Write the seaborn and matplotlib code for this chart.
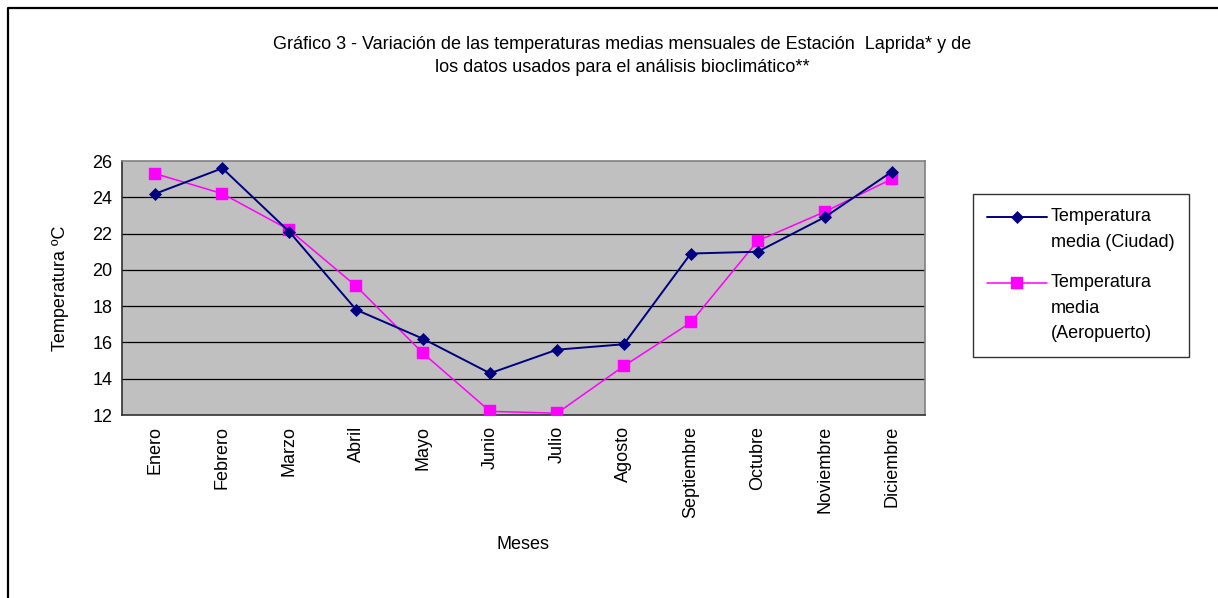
import matplotlib
matplotlib.use('Agg')
import matplotlib.pyplot as plt
from matplotlib.lines import Line2D
from matplotlib.transforms import Affine2D
import seaborn as sns
import pandas as pd
import numpy as np

meses = ['Enero', 'Febrero', 'Marzo', 'Abril', 'Mayo', 'Junio', 'Julio',
         'Agosto', 'Septiembre', 'Octubre', 'Noviembre', 'Diciembre']
temp_ciudad = [24.2, 25.6, 22.1, 17.8, 16.2, 14.3, 15.6, 15.9, 20.9, 21.0, 22.9, 25.4]
temp_aeropuerto = [25.3, 24.2, 22.2, 19.1, 15.4, 12.2, 12.1, 14.7, 17.1, 21.6, 23.2, 25.0]
etiquetas = ['Temperatura\nmedia (Ciudad)', 'Temperatura\nmedia\n(Aeropuerto)']
y_ticks = [12, 14, 16, 18, 20, 22, 24, 26]

titulo = ('Gráfico 3 - Variación de las temperaturas medias mensuales de Estación  Laprida* y de\n'
          'los datos usados para el análisis bioclimático**')

sns.set_style('white')
plt.rcParams['font.family'] = ['Liberation Sans', 'DejaVu Sans']
for k in ['text.color', 'axes.labelcolor', 'xtick.color', 'ytick.color']:
    plt.rcParams[k] = 'black'

FS = 13

df = pd.DataFrame({'mes': meses, 'ciudad': temp_ciudad, 'aeropuerto': temp_aeropuerto})

fig = plt.figure(figsize=(12.18, 5.98), dpi=100)
ax = fig.add_axes([122 / 1218, 1 - 415 / 598, 803 / 1218, 254 / 598])
ax.set_facecolor('#C0C0C0')

sns.lineplot(data=df, x='mes', y='ciudad', ax=ax, sort=False, color='#000080',
             marker='D', markersize=6, markeredgewidth=0.5, markeredgecolor='#000080',
             linewidth=1.4, label=etiquetas[0], zorder=4)
sns.lineplot(data=df, x='mes', y='aeropuerto', ax=ax, sort=False, color='#FF00FF',
             marker='s', markersize=8.5, markeredgewidth=0.3, markeredgecolor='#FF00FF',
             linewidth=1.1, label=etiquetas[1], zorder=3)

ax.set_xlim(-0.5, len(meses) - 0.5)
ax.set_ylim(12, 26)
ax.set_yticks(y_ticks)
ax.set_yticklabels([str(v) for v in y_ticks], fontsize=FS)
ax.set_xticks(range(len(meses)))
ax.set_xticklabels(meses, rotation=90, fontsize=FS)
ax.set_xticks(np.arange(-0.5, len(meses)), minor=True)
ax.tick_params(axis='x', which='major', length=0, pad=8)
ax.tick_params(axis='x', which='minor', length=4, width=1, color='black', direction='out')
ax.tick_params(axis='y', length=4, width=1, color='black', direction='out', pad=3)

for y in y_ticks[1:-1]:
    ax.axhline(y, color='black', linewidth=0.9, zorder=1)

for side in ['top', 'right']:
    ax.spines[side].set_color('#808080')
    ax.spines[side].set_linewidth(1.2)
for side in ['left', 'bottom']:
    ax.spines[side].set_color('#303030')
    ax.spines[side].set_linewidth(1.2)

ax.set_xlabel('Meses', fontsize=FS, labelpad=13)
ax.set_ylabel('Temperatura ºC', fontsize=FS, labelpad=17)

fig.text(622 / 1218, 1 - 56 / 598, titulo, ha='center', va='center',
         multialignment='center', fontsize=FS, linespacing=1.45)

leg = ax.legend(loc='upper left', bbox_to_anchor=(973 / 1218, 1 - 194 / 598),
                bbox_transform=fig.transFigure, borderaxespad=0, fontsize=FS,
                frameon=True, fancybox=False, shadow=False, handlelength=3.3,
                handletextpad=0.2, labelspacing=1.3, borderpad=0.8)
leg.get_frame().set_edgecolor('black')
leg.get_frame().set_linewidth(1.0)
line_h = 25
for txt in leg.get_texts():
    txt.set_linespacing(1.65)
for hl, lab in zip(leg.get_lines(), etiquetas):
    n = lab.count('\n') + 1
    dy = (n - 1) * line_h / 2
    hl.set_transform(hl.get_transform() + Affine2D().translate(0, dy))

# marco exterior del grafico
fig.add_artist(Line2D([8 / 1218, 8 / 1218, 1], [0, 1 - 8 / 598, 1 - 8 / 598],
                      transform=fig.transFigure, color='black', linewidth=1.6))

fig.savefig('out.png', dpi=100, facecolor='white')
